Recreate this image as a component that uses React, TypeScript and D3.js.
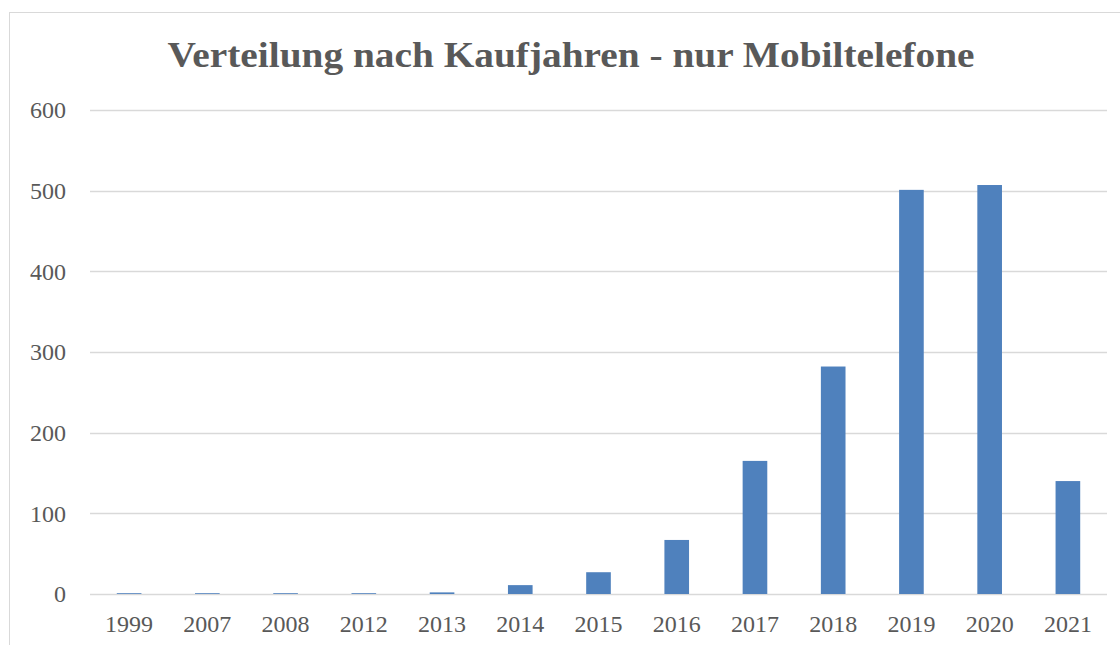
import React, { useRef, useEffect } from 'react';
import * as d3 from 'd3';

const years = ['1999', '2007', '2008', '2012', '2013', '2014', '2015', '2016', '2017', '2018', '2019', '2020', '2021'];
const counts = [1, 1, 1, 1, 2, 11, 27, 67, 165, 282, 501, 507, 140];
const yTicks = [0, 100, 200, 300, 400, 500, 600];
const title = 'Verteilung nach Kaufjahren - nur Mobiltelefone';

const App = () => {
  const svgRef = useRef<SVGSVGElement | null>(null);

  useEffect(() => {
    const width = 1120;
    const height = 645;
    const svg = d3.select(svgRef.current).attr('width', width).attr('height', height);
    svg.selectAll('*').remove();

    const margin = { left: 90, right: 13, top: 110, bottom: 51 };
    const font = '"Liberation Serif", "DejaVu Serif", serif';

    // chart frame (cut off at right and bottom)
    svg.append('rect')
      .attr('x', 9.5).attr('y', 12.5)
      .attr('width', width + 20).attr('height', height + 20)
      .attr('fill', '#fff').attr('stroke', '#d9d9d9');

    const x = d3.scaleBand<string>()
      .domain(years)
      .range([margin.left, width - margin.right])
      .paddingInner(0.685)
      .paddingOuter(0.3425);

    const y = d3.scaleLinear()
      .domain([0, 600])
      .range([height - margin.bottom, margin.top]);

    svg.append('g')
      .selectAll('line')
      .data(yTicks)
      .enter()
      .append('line')
      .attr('x1', margin.left).attr('x2', width - margin.right)
      .attr('y1', d => Math.round(y(d)) + 0.5).attr('y2', d => Math.round(y(d)) + 0.5)
      .attr('stroke', '#d9d9d9').attr('stroke-width', 1.5);

    svg.append('g')
      .selectAll('text')
      .data(yTicks)
      .enter()
      .append('text')
      .attr('x', 66).attr('y', d => y(d))
      .attr('dy', '0.35em')
      .attr('text-anchor', 'end')
      .attr('font-family', font).attr('font-size', 24)
      .attr('fill', '#595959')
      .text(d => d);

    svg.append('g')
      .selectAll('rect')
      .data(years)
      .enter()
      .append('rect')
      .attr('x', d => x(d)!)
      .attr('width', x.bandwidth())
      .attr('y', (d, i) => y(counts[i]))
      .attr('height', (d, i) => y(0) - y(counts[i]))
      .attr('fill', '#4f81bd');

    svg.append('g')
      .selectAll('text')
      .data(years)
      .enter()
      .append('text')
      .attr('x', d => x(d)! + x.bandwidth() / 2)
      .attr('y', 632)
      .attr('text-anchor', 'middle')
      .attr('font-family', font).attr('font-size', 24)
      .attr('fill', '#595959')
      .text(d => d);

    svg.append('text')
      .attr('x', 571).attr('y', 67)
      .attr('text-anchor', 'middle')
      .attr('font-family', font).attr('font-size', 35)
      .attr('font-weight', 'bold')
      .attr('textLength', 807)
      .attr('lengthAdjust', 'spacingAndGlyphs')
      .attr('fill', '#595959')
      .text(title);
  }, []);

  return <svg ref={svgRef} style={{ display: 'block', position: 'absolute', left: 0, top: 0 }}></svg>;
};

export default App;
